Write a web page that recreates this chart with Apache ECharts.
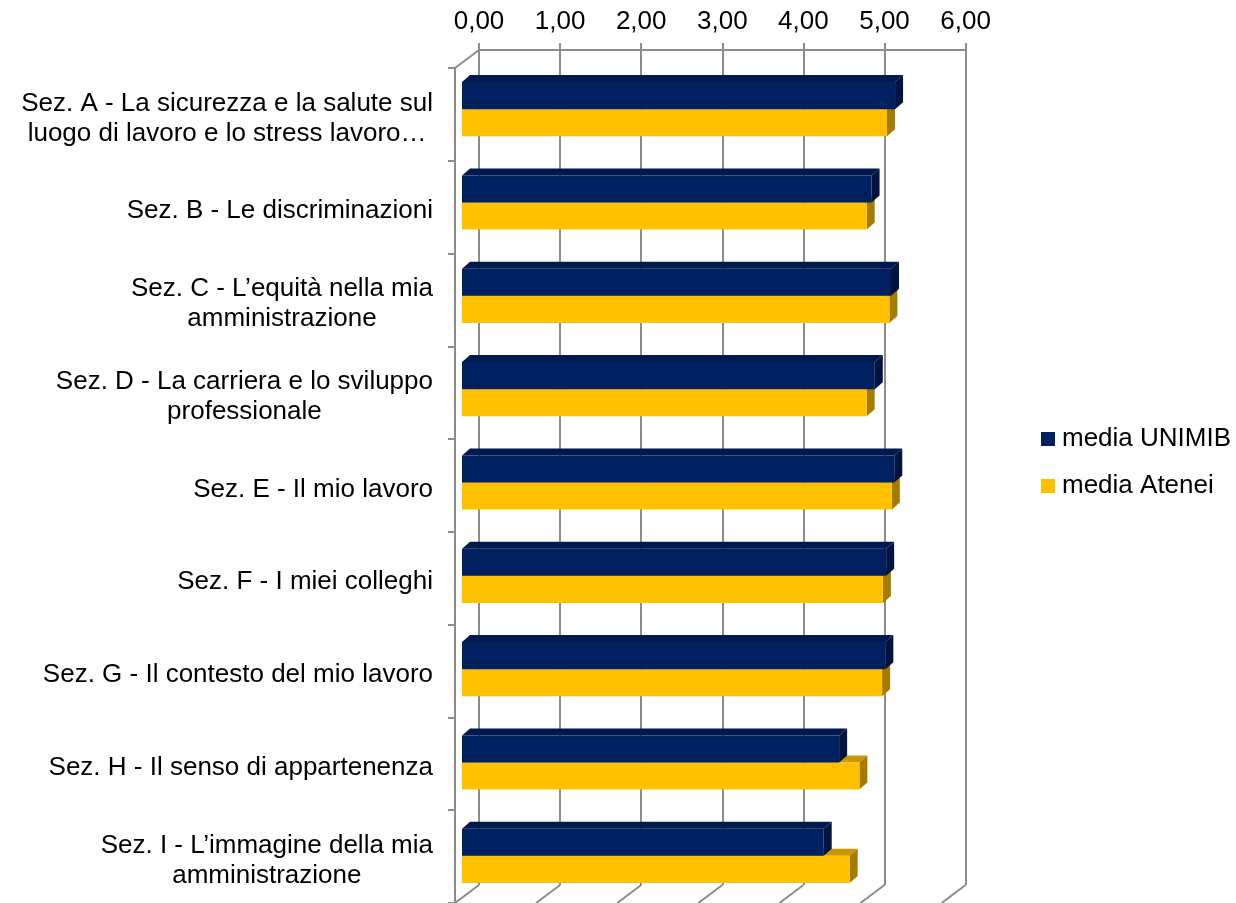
<!DOCTYPE html>
<html>
<head>
<meta charset="utf-8">
<script src="https://cdn.jsdelivr.net/npm/echarts@6/dist/echarts.min.js"></script>
<style>
  html, body { margin: 0; padding: 0; background: #ffffff; }
  #chart { width: 1236px; height: 903px; }
</style>
</head>
<body>
<div id="chart"></div>
<script>
// data
const categories = [
  "Sez. A - La sicurezza e la salute sul\nluogo di lavoro e lo stress lavoro…",
  "Sez. B - Le discriminazioni",
  "Sez. C - L’equità nella mia\namministrazione",
  "Sez. D - La carriera e lo sviluppo\nprofessionale",
  "Sez. E - Il mio lavoro",
  "Sez. F - I miei colleghi",
  "Sez. G - Il contesto del mio lavoro",
  "Sez. H - Il senso di appartenenza",
  "Sez. I - L’immagine della mia\namministrazione"
];
const mediaUnimib = [5.34, 5.05, 5.29, 5.09, 5.33, 5.23, 5.22, 4.65, 4.46];
const mediaAtenei = [5.24, 4.99, 5.27, 4.99, 5.30, 5.19, 5.18, 4.90, 4.78];
const xTicks = [0, 1, 2, 3, 4, 5, 6];
const seriesNames = ["media UNIMIB", "media Atenei"];

const FONT = "'Liberation Sans', Arial, sans-serif";
const FONT_SIZE = 26;
const GRID_COLOR = "#8c8c8c";
// 3d look: wall depth and bar depth in px
const WALL_DX = 24, WALL_DY = 18;
const BAR_DX = 8, BAR_DY = 7;

const faces = {
  "media UNIMIB": { front: "#002060", top: "#001a4e", side: "#001440" },
  "media Atenei": { front: "#ffc000", top: "#c99700", side: "#a67c00" }
};

function bar3d(upper) {
  return function (params, api) {
    const cat = api.value(1);
    const val = api.value(0);
    const p0 = api.coord([0, cat]);
    const p1 = api.coord([val, cat]);
    const h = api.size([0, 1])[1] * 0.29;
    const y0 = upper ? p0[1] - h : p0[1];
    const x0 = p0[0], x1 = p1[0];
    const f = faces[params.seriesName];
    return {
      type: "group",
      children: [
        {
          type: "polygon",
          shape: { points: [[x0, y0], [x0 + BAR_DX, y0 - BAR_DY], [x1 + BAR_DX, y0 - BAR_DY], [x1, y0]] },
          style: { fill: f.top }
        },
        {
          type: "polygon",
          shape: { points: [[x1, y0], [x1 + BAR_DX, y0 - BAR_DY], [x1 + BAR_DX, y0 + h - BAR_DY], [x1, y0 + h]] },
          style: { fill: f.side }
        },
        {
          type: "rect",
          shape: { x: x0, y: y0, width: x1 - x0, height: h },
          style: { fill: f.front }
        }
      ]
    };
  };
}

// slanted floor lines + top-left edge of the box
function frameLines(params, api) {
  const v = api.value(0);
  const band = api.size([0, 1])[1];
  const bottom = api.coord([v, categories.length - 1]);
  const by = bottom[1] + band / 2;
  const children = [{
    type: "line",
    shape: { x1: bottom[0], y1: by, x2: bottom[0] - WALL_DX, y2: by + WALL_DY },
    style: { stroke: GRID_COLOR, lineWidth: 2 }
  }];
  if (v === 0) {
    const top = api.coord([0, 0]);
    const ty = top[1] - band / 2;
    children.push({
      type: "line",
      shape: { x1: top[0], y1: ty, x2: top[0] - WALL_DX, y2: ty + WALL_DY },
      style: { stroke: GRID_COLOR, lineWidth: 2 }
    });
  }
  return { type: "group", children: children };
}

const chart = echarts.init(document.getElementById("chart"), null, { renderer: "canvas" });

const option = {
  backgroundColor: "#ffffff",
  animation: false,
  textStyle: { fontFamily: FONT },
  legend: {
    data: seriesNames,
    orient: "vertical",
    left: 1036,
    top: 421,
    icon: "rect",
    itemWidth: 14,
    itemHeight: 14,
    itemGap: 21,
    textStyle: { fontSize: FONT_SIZE, color: "#000", fontFamily: FONT, padding: [0, 0, 0, 2] }
  },
  grid: [
    // front wall (category labels)
    { left: 455, top: 68, width: 486.6, height: 840 },
    // back wall (value axis + gridlines)
    { left: 479, top: 50, width: 486.6, height: 835 },
    // bar plane
    { left: 462, top: 62.5, width: 486.6, height: 840 }
  ],
  xAxis: [
    { gridIndex: 0, type: "value", min: 0, max: 6, show: false },
    {
      gridIndex: 1, type: "value", position: "top", min: 0, max: 6, interval: 1,
      axisLine: { show: true, lineStyle: { color: GRID_COLOR, width: 2 } },
      axisTick: { show: true, length: 7, lineStyle: { color: GRID_COLOR, width: 2 } },
      axisLabel: {
        margin: 15, fontSize: FONT_SIZE, color: "#000", fontFamily: FONT,
        formatter: (v) => v.toFixed(2).replace(".", ",")
      },
      splitLine: { show: true, lineStyle: { color: GRID_COLOR, width: 2 } }
    },
    { gridIndex: 2, type: "value", min: 0, max: 6, show: false }
  ],
  yAxis: [
    {
      gridIndex: 0, type: "category", inverse: true, data: categories,
      axisLine: { show: true, lineStyle: { color: GRID_COLOR, width: 2 } },
      axisTick: { show: true, length: 7, lineStyle: { color: GRID_COLOR, width: 2 } },
      axisLabel: {
        margin: 22, color: "#000", fontSize: FONT_SIZE, fontFamily: FONT,
        padding: [8, 0, 0, 0],
        formatter: (v) => v.split("\n").map((s) => "{c|" + s + "}").join("\n"),
        rich: { c: { align: "center", fontSize: FONT_SIZE, lineHeight: 30, color: "#000", fontFamily: FONT } }
      },
      splitLine: { show: false }
    },
    { gridIndex: 1, type: "category", inverse: true, data: categories, show: false },
    { gridIndex: 2, type: "category", inverse: true, data: categories, show: false }
  ],
  series: [
    {
      name: "frame",
      type: "custom",
      xAxisIndex: 1, yAxisIndex: 1,
      silent: true,
      z: 1,
      renderItem: frameLines,
      data: xTicks.map((t) => [t])
    },
    {
      name: "media UNIMIB",
      type: "custom",
      xAxisIndex: 2, yAxisIndex: 2,
      z: 4,
      itemStyle: { color: "#002060" },
      renderItem: bar3d(true),
      encode: { x: 0, y: 1 },
      data: mediaUnimib.map((v, i) => [v, i])
    },
    {
      name: "media Atenei",
      type: "custom",
      xAxisIndex: 2, yAxisIndex: 2,
      z: 3,
      itemStyle: { color: "#ffc000" },
      renderItem: bar3d(false),
      encode: { x: 0, y: 1 },
      data: mediaAtenei.map((v, i) => [v, i])
    }
  ]
};

chart.setOption(option);
</script>
</body>
</html>
